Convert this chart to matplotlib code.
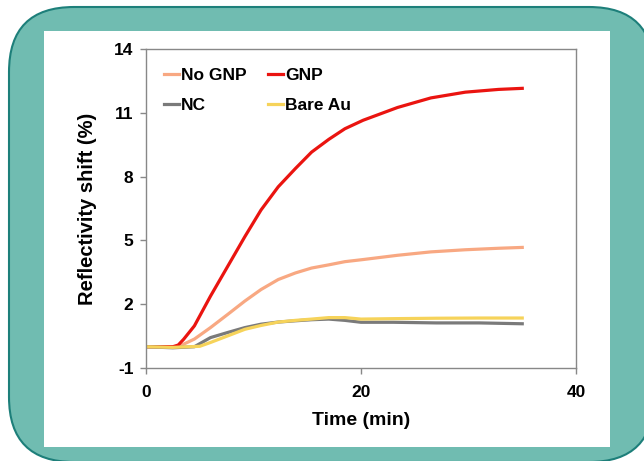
import matplotlib.pyplot as plt
from matplotlib.patches import FancyBboxPatch, Rectangle

# time (min) and reflectivity shift (%)
gnp_t = [0, 2.5, 3.0, 3.5, 4.5, 6.0, 7.6, 9.2, 10.7, 12.3, 13.9, 15.4, 17.0, 18.5, 20.2,
         23.4, 26.5, 29.7, 32.8, 35]
gnp_y = [0, 0, 0.08, 0.35, 0.98, 2.38, 3.78, 5.18, 6.43, 7.52, 8.38, 9.15, 9.75, 10.25,
         10.65, 11.25, 11.7, 11.97, 12.1, 12.15]

nognp_t = [0, 3.0, 4.5, 6.0, 7.6, 9.2, 10.7, 12.3, 13.9, 15.4, 17.0, 18.5, 20.2, 23.4,
           26.5, 29.7, 32.8, 35]
nognp_y = [0, 0, 0.36, 0.9, 1.52, 2.15, 2.69, 3.16, 3.47, 3.7, 3.85, 4.0, 4.1, 4.3, 4.46,
           4.56, 4.63, 4.67]

nc_t = [0, 2.5, 4.5, 6.0, 7.6, 9.2, 10.7, 12.3, 13.9, 15.4, 17.0, 18.5, 20.0, 23.0, 27.0,
        31.0, 35]
nc_y = [0, -0.05, 0.0, 0.43, 0.67, 0.9, 1.06, 1.16, 1.22, 1.27, 1.3, 1.24, 1.15, 1.15,
        1.12, 1.12, 1.08]

au_t = [0, 2.5, 5.0, 6.0, 7.6, 9.2, 10.7, 12.3, 13.9, 15.4, 17.0, 18.5, 20.0, 23.0, 27.0,
        31.0, 35]
au_y = [0, -0.03, 0.02, 0.2, 0.51, 0.82, 1.0, 1.16, 1.24, 1.3, 1.37, 1.37, 1.3, 1.32,
        1.34, 1.35, 1.35]

W, H = 644, 461
fig = plt.figure(figsize=(W / 100, H / 100), dpi=100)
plt.rcParams['font.family'] = ['Liberation Sans', 'DejaVu Sans']
plt.rcParams['axes.unicode_minus'] = False

# teal card with white panel behind the chart
bg = fig.add_axes([0, 0, 1, 1])
bg.set_xlim(0, W)
bg.set_ylim(H, 0)
bg.axis('off')
bg.add_patch(FancyBboxPatch((9, 7), 645, 455, boxstyle="round,pad=0,rounding_size=65",
                            facecolor='#70bcb1', edgecolor='#1d7f7a', linewidth=1.5))
bg.add_patch(Rectangle((44, 31), 566, 416, facecolor='white', edgecolor='none'))

ax = fig.add_axes([146 / W, 1 - 368 / H, 430 / W, 319 / H])
ax.patch.set_alpha(0)

lw = 2.3
l1, = ax.plot(nognp_t, nognp_y, color='#f8a882', lw=lw, label='No GNP')
l2, = ax.plot(gnp_t, gnp_y, color='#ea1410', lw=lw, label='GNP')
l3, = ax.plot(nc_t, nc_y, color='#7a7a7a', lw=lw, label='NC')
l4, = ax.plot(au_t, au_y, color='#f6d35a', lw=lw, label='Bare Au')

ax.set_xlim(0, 40)
ax.set_ylim(-1, 14)
ax.set_xticks([0, 20, 40])
ax.set_yticks([-1, 2, 5, 8, 11, 14])
for s in ax.spines.values():
    s.set_color('#888888')
    s.set_linewidth(1)
ax.tick_params(direction='out', length=4, width=1, color='#888888', labelsize=12.5, pad=5)
ax.tick_params(axis='x', pad=8)
for lab in ax.get_xticklabels() + ax.get_yticklabels():
    lab.set_fontweight('bold')

ax.set_xlabel('Time (min)', fontsize=14, fontweight='bold', labelpad=9)
ax.set_ylabel('Reflectivity shift (%)', fontsize=14.5, fontweight='bold', labelpad=12.5)

# column-major fill: row 1 = No GNP, GNP ; row 2 = NC, Bare Au
ax.legend([l1, l3, l2, l4], ['No GNP', 'NC', 'GNP', 'Bare Au'], ncol=2, loc='upper left',
          bbox_to_anchor=(0.005, 0.99), frameon=False,
          handlelength=0.9, handletextpad=0.1, columnspacing=1.2, labelspacing=0.85,
          prop={'weight': 'bold', 'size': 12.5})

fig.savefig('out.png', dpi=100)
